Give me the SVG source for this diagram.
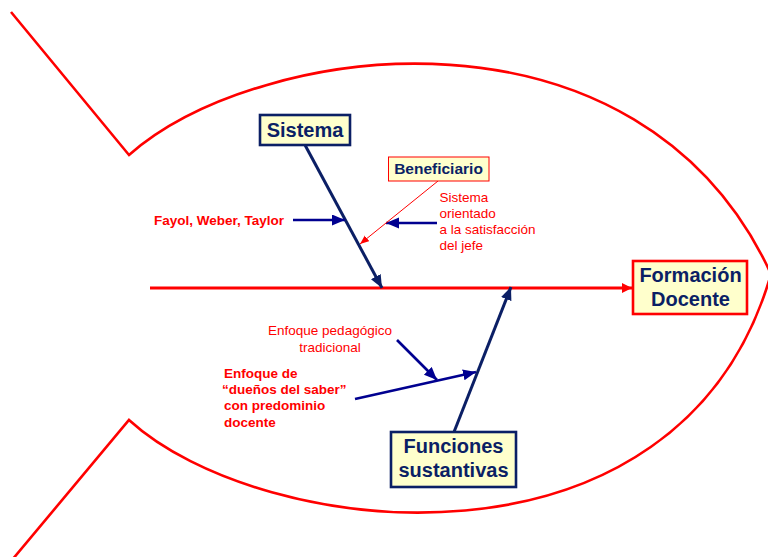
<svg xmlns="http://www.w3.org/2000/svg" width="768" height="557" viewBox="0 0 768 557">
<style>
  .fish{fill:none;stroke:#FF0000;stroke-width:2.6;stroke-linejoin:miter}
  .box{fill:#FFFFCC}
  .nbox{stroke:#0B1F65;stroke-width:2.6}
  .rbox{stroke:#FF0000;stroke-width:2.6}
  .tbox{stroke:#FF0000;stroke-width:1}
  .big{font-family:"Liberation Sans",Arial,sans-serif;font-weight:bold;font-size:20px;fill:#0B1F65;text-anchor:middle}
  .mid{font-family:"Liberation Sans",Arial,sans-serif;font-weight:bold;font-size:15.5px;fill:#0B1F65;text-anchor:middle}
  .rt{font-family:"Liberation Sans",Arial,sans-serif;font-size:13.5px;fill:#FF0000}
  .rb{font-family:"Liberation Sans",Arial,sans-serif;font-size:13.5px;font-weight:bold;fill:#FF0000}
  .bone{fill:none;stroke:#0B1F65;stroke-width:3}
  .sub{fill:none;stroke:#000090;stroke-width:2.6}
  .spine{fill:none;stroke:#FF0000;stroke-width:3}
  .thin{fill:none;stroke:#FF0000;stroke-width:1}
</style>
<defs>
  <marker id="ahRed" markerUnits="userSpaceOnUse" markerWidth="12" markerHeight="12" refX="10" refY="5" orient="auto" viewBox="0 0 12 12">
    <path d="M0,0 L10,5 L0,10 Z" fill="#FF0000"/>
  </marker>
  <marker id="ahNavy" markerUnits="userSpaceOnUse" markerWidth="14" markerHeight="12" refX="13" refY="5.5" orient="auto" viewBox="0 0 14 12">
    <path d="M0,0 L13,5.5 L0,11 Z" fill="#0B1F65"/>
  </marker>
  <marker id="ahBlue" markerUnits="userSpaceOnUse" markerWidth="14" markerHeight="12" refX="13" refY="5.5" orient="auto" viewBox="0 0 14 12">
    <path d="M0,0 L13,5.5 L0,11 Z" fill="#000090"/>
  </marker>
  <marker id="ahThin" markerUnits="userSpaceOnUse" markerWidth="10" markerHeight="8" refX="9" refY="3.5" orient="auto" viewBox="0 0 10 8">
    <path d="M0,0 L9,3.5 L0,7 Z" fill="#FF0000"/>
  </marker>
</defs>

<g id="fish-outline">
  <path class="fish" d="M11,12 L129,155 C260,40 640,-10 771,274"/>
  <path class="fish" d="M771,274 C680,590 260,540 129,420 L12,560"/>
</g>

<g id="connectors">
  <line id="spine" class="spine" x1="150" y1="288" x2="632" y2="288" marker-end="url(#ahRed)"/>
  <line id="bone-sistema" class="bone" x1="305" y1="145" x2="382" y2="288" marker-end="url(#ahNavy)"/>
  <line id="bone-funciones" class="bone" x1="454" y1="432" x2="511" y2="287" marker-end="url(#ahNavy)"/>
  <line id="arrow-fayol" class="sub" x1="293" y1="220" x2="345" y2="220" marker-end="url(#ahBlue)"/>
  <line id="arrow-orientado" class="sub" x1="437" y1="223" x2="386" y2="223" marker-end="url(#ahBlue)"/>
  <line id="arrow-beneficiario" class="thin" x1="438" y1="181" x2="360" y2="244" marker-end="url(#ahThin)"/>
  <line id="arrow-duenos" class="sub" x1="355" y1="399" x2="476" y2="372" marker-end="url(#ahBlue)"/>
  <line id="arrow-tradicional" class="sub" x1="397" y1="340" x2="437" y2="380" marker-end="url(#ahBlue)"/>
</g>

<g id="node-formacion">
  <rect class="box rbox" x="633" y="261" width="114" height="53"/>
  <text class="big" x="690.5" y="282">Formación</text>
  <text class="big" x="690.5" y="306">Docente</text>
</g>

<g id="node-sistema">
  <rect class="box nbox" x="260" y="115" width="90" height="30"/>
  <text class="big" x="305" y="137">Sistema</text>
</g>

<g id="node-beneficiario">
  <rect class="box tbox" x="388.5" y="157" width="100.5" height="24"/>
  <text class="mid" x="438.5" y="174">Beneficiario</text>
</g>

<g id="node-funciones">
  <rect class="box nbox" x="391" y="432" width="125" height="55"/>
  <text class="big" x="453.5" y="453">Funciones</text>
  <text class="big" x="453.5" y="477">sustantivas</text>
</g>

<g id="label-fayol">
  <text class="rb" x="154" y="224.5">Fayol, Weber, Taylor</text>
</g>

<g id="label-orientado">
  <text class="rt" x="439.5" y="202">Sistema</text>
  <text class="rt" x="439.5" y="218">orientado</text>
  <text class="rt" x="439.5" y="234">a la satisfacción</text>
  <text class="rt" x="439.5" y="250">del jefe</text>
</g>

<g id="label-tradicional">
  <text class="rt" x="330" y="335" text-anchor="middle">Enfoque pedagógico</text>
  <text class="rt" x="330" y="352" text-anchor="middle">tradicional</text>
</g>

<g id="label-duenos">
  <text class="rb" x="224" y="378">Enfoque de</text>
  <text class="rb" x="222" y="394">“dueños del saber”</text>
  <text class="rb" x="224" y="410">con predominio</text>
  <text class="rb" x="224" y="427">docente</text>
</g>
</svg>
